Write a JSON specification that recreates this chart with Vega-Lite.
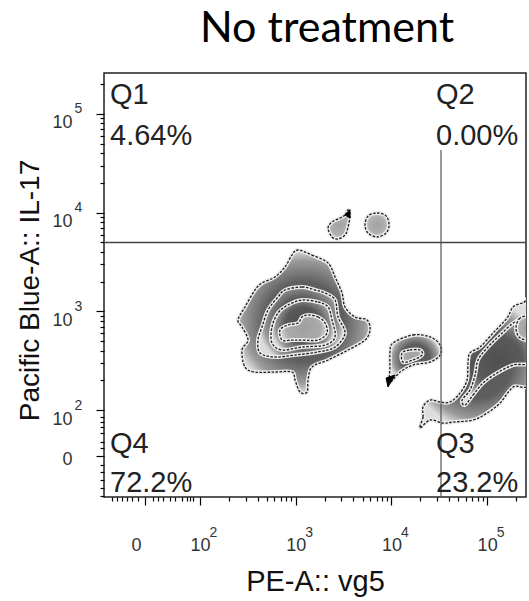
{
  "$schema": "https://vega.github.io/schema/vega-lite/v6.json",
  "width": 422,
  "height": 424,
  "autosize": {"type": "none"},
  "padding": {"left": 104, "top": 73, "right": 3, "bottom": 104},
  "background": "white",
  "title": {"text": "No treatment", "font": "Lato", "fontSize": 43, "fontWeight": "normal", "color": "#000", "anchor": "middle", "dx": 12, "offset": -12, "baseline": "alphabetic"},
  "config": {
    "view": {"stroke": "#222", "strokeWidth": 1.5},
    "axis": {"grid": false, "domain": false, "tickColor": "#000", "tickWidth": 1.2, "labelFont": "Liberation Sans", "labelColor": "#333", "titleFont": "Liberation Sans", "titleFontWeight": "normal", "titleColor": "#111", "labelOverlap": false, "labelFlush": false, "labelBound": false}
  },
  "datasets": {
    "contours": [
      {"s":"m1","lv":1,"i":0,"x":3.024,"y":3.621},{"s":"m1","lv":1,"i":1,"x":3.170,"y":3.570},{"s":"m1","lv":1,"i":2,"x":3.338,"y":3.489},{"s":"m1","lv":1,"i":3,"x":3.411,"y":3.348},{"s":"m1","lv":1,"i":4,"x":3.484,"y":3.185},{"s":"m1","lv":1,"i":5,"x":3.515,"y":3.044},{"s":"m1","lv":1,"i":6,"x":3.620,"y":2.942},{"s":"m1","lv":1,"i":7,"x":3.745,"y":2.912},{"s":"m1","lv":1,"i":8,"x":3.776,"y":2.811},{"s":"m1","lv":1,"i":9,"x":3.724,"y":2.709},{"s":"m1","lv":1,"i":10,"x":3.547,"y":2.608},{"s":"m1","lv":1,"i":11,"x":3.338,"y":2.507},{"s":"m1","lv":1,"i":12,"x":3.170,"y":2.436},{"s":"m1","lv":1,"i":13,"x":3.129,"y":2.304},{"s":"m1","lv":1,"i":14,"x":3.118,"y":2.182},{"s":"m1","lv":1,"i":15,"x":3.045,"y":2.182},{"s":"m1","lv":1,"i":16,"x":2.993,"y":2.304},{"s":"m1","lv":1,"i":17,"x":2.961,"y":2.385},{"s":"m1","lv":1,"i":18,"x":2.784,"y":2.385},{"s":"m1","lv":1,"i":19,"x":2.575,"y":2.385},{"s":"m1","lv":1,"i":20,"x":2.470,"y":2.436},{"s":"m1","lv":1,"i":21,"x":2.439,"y":2.608},{"s":"m1","lv":1,"i":22,"x":2.502,"y":2.709},{"s":"m1","lv":1,"i":23,"x":2.439,"y":2.841},{"s":"m1","lv":1,"i":24,"x":2.397,"y":2.912},{"s":"m1","lv":1,"i":25,"x":2.470,"y":3.044},{"s":"m1","lv":1,"i":26,"x":2.575,"y":3.216},{"s":"m1","lv":1,"i":27,"x":2.648,"y":3.287},{"s":"m1","lv":1,"i":28,"x":2.784,"y":3.348},{"s":"m1","lv":1,"i":29,"x":2.888,"y":3.449},{"s":"m1","lv":1,"i":30,"x":2.961,"y":3.570},
      {"s":"m2","lv":2,"i":0,"x":2.888,"y":3.216},{"s":"m2","lv":2,"i":1,"x":3.066,"y":3.246},{"s":"m2","lv":2,"i":2,"x":3.202,"y":3.216},{"s":"m2","lv":2,"i":3,"x":3.306,"y":3.185},{"s":"m2","lv":2,"i":4,"x":3.411,"y":3.114},{"s":"m2","lv":2,"i":5,"x":3.442,"y":2.942},{"s":"m2","lv":2,"i":6,"x":3.515,"y":2.780},{"s":"m2","lv":2,"i":7,"x":3.411,"y":2.638},{"s":"m2","lv":2,"i":8,"x":3.233,"y":2.588},{"s":"m2","lv":2,"i":9,"x":2.993,"y":2.557},{"s":"m2","lv":2,"i":10,"x":2.784,"y":2.537},{"s":"m2","lv":2,"i":11,"x":2.627,"y":2.578},{"s":"m2","lv":2,"i":12,"x":2.606,"y":2.709},{"s":"m2","lv":2,"i":13,"x":2.648,"y":2.841},{"s":"m2","lv":2,"i":14,"x":2.711,"y":3.013},{"s":"m2","lv":2,"i":15,"x":2.815,"y":3.145},
      {"s":"m3","lv":3,"i":0,"x":3.066,"y":3.114},{"s":"m3","lv":3,"i":1,"x":3.233,"y":3.094},{"s":"m3","lv":3,"i":2,"x":3.338,"y":3.044},{"s":"m3","lv":3,"i":3,"x":3.379,"y":2.912},{"s":"m3","lv":3,"i":4,"x":3.411,"y":2.740},{"s":"m3","lv":3,"i":5,"x":3.306,"y":2.659},{"s":"m3","lv":3,"i":6,"x":3.066,"y":2.638},{"s":"m3","lv":3,"i":7,"x":2.857,"y":2.608},{"s":"m3","lv":3,"i":8,"x":2.752,"y":2.679},{"s":"m3","lv":3,"i":9,"x":2.752,"y":2.841},{"s":"m3","lv":3,"i":10,"x":2.815,"y":2.983},{"s":"m3","lv":3,"i":11,"x":2.920,"y":3.064},
      {"s":"m4","lv":4,"i":0,"x":3.129,"y":2.963},{"s":"m4","lv":4,"i":1,"x":3.233,"y":2.942},{"s":"m4","lv":4,"i":2,"x":3.306,"y":2.881},{"s":"m4","lv":4,"i":3,"x":3.327,"y":2.780},{"s":"m4","lv":4,"i":4,"x":3.233,"y":2.709},{"s":"m4","lv":4,"i":5,"x":3.066,"y":2.709},{"s":"m4","lv":4,"i":6,"x":2.961,"y":2.709},{"s":"m4","lv":4,"i":7,"x":2.857,"y":2.709},{"s":"m4","lv":4,"i":8,"x":2.836,"y":2.811},{"s":"m4","lv":4,"i":9,"x":2.920,"y":2.861},{"s":"m4","lv":4,"i":10,"x":3.024,"y":2.881},{"s":"m4","lv":4,"i":11,"x":3.066,"y":2.942},
      {"s":"td","lv":1,"i":0,"x":3.547,"y":4.026},{"s":"td","lv":1,"i":1,"x":3.515,"y":3.976},{"s":"td","lv":1,"i":2,"x":3.463,"y":3.945},{"s":"td","lv":1,"i":3,"x":3.379,"y":3.905},{"s":"td","lv":1,"i":4,"x":3.338,"y":3.844},{"s":"td","lv":1,"i":5,"x":3.379,"y":3.753},{"s":"td","lv":1,"i":6,"x":3.442,"y":3.733},{"s":"td","lv":1,"i":7,"x":3.515,"y":3.773},{"s":"td","lv":1,"i":8,"x":3.547,"y":3.854},{"s":"td","lv":1,"i":9,"x":3.567,"y":3.976},
      {"s":"ci","lv":1,"i":0,"x":3.975,"y":3.874},{"s":"ci","lv":1,"i":1,"x":3.944,"y":3.793},{"s":"ci","lv":1,"i":2,"x":3.850,"y":3.753},{"s":"ci","lv":1,"i":3,"x":3.756,"y":3.793},{"s":"ci","lv":1,"i":4,"x":3.724,"y":3.874},{"s":"ci","lv":1,"i":5,"x":3.756,"y":3.966},{"s":"ci","lv":1,"i":6,"x":3.850,"y":3.996},{"s":"ci","lv":1,"i":7,"x":3.944,"y":3.966},
      {"s":"qb1","lv":1,"i":0,"x":4.017,"y":2.679},{"s":"qb1","lv":1,"i":1,"x":4.226,"y":2.760},{"s":"qb1","lv":1,"i":2,"x":4.403,"y":2.740},{"s":"qb1","lv":1,"i":3,"x":4.508,"y":2.659},{"s":"qb1","lv":1,"i":4,"x":4.508,"y":2.557},{"s":"qb1","lv":1,"i":5,"x":4.403,"y":2.486},{"s":"qb1","lv":1,"i":6,"x":4.226,"y":2.456},{"s":"qb1","lv":1,"i":7,"x":4.090,"y":2.385},{"s":"qb1","lv":1,"i":8,"x":3.985,"y":2.284},{"s":"qb1","lv":1,"i":9,"x":3.985,"y":2.436},{"s":"qb1","lv":1,"i":10,"x":3.985,"y":2.578},
      {"s":"qb2","lv":4,"i":0,"x":4.111,"y":2.578},{"s":"qb2","lv":4,"i":1,"x":4.194,"y":2.608},{"s":"qb2","lv":4,"i":2,"x":4.299,"y":2.608},{"s":"qb2","lv":4,"i":3,"x":4.320,"y":2.557},{"s":"qb2","lv":4,"i":4,"x":4.226,"y":2.507},{"s":"qb2","lv":4,"i":5,"x":4.121,"y":2.486},
      {"s":"rb1","lv":1,"i":0,"x":4.299,"y":1.818},{"s":"rb1","lv":1,"i":1,"x":4.330,"y":1.929},{"s":"rb1","lv":1,"i":2,"x":4.330,"y":2.030},{"s":"rb1","lv":1,"i":3,"x":4.403,"y":2.101},{"s":"rb1","lv":1,"i":4,"x":4.508,"y":2.081},{"s":"rb1","lv":1,"i":5,"x":4.612,"y":2.081},{"s":"rb1","lv":1,"i":6,"x":4.717,"y":2.172},{"s":"rb1","lv":1,"i":7,"x":4.790,"y":2.304},{"s":"rb1","lv":1,"i":8,"x":4.800,"y":2.476},{"s":"rb1","lv":1,"i":9,"x":4.821,"y":2.578},{"s":"rb1","lv":1,"i":10,"x":4.926,"y":2.638},{"s":"rb1","lv":1,"i":11,"x":5.062,"y":2.780},{"s":"rb1","lv":1,"i":12,"x":5.208,"y":2.932},{"s":"rb1","lv":1,"i":13,"x":5.271,"y":3.044},{"s":"rb1","lv":1,"i":14,"x":5.375,"y":3.084},{"s":"rb1","lv":1,"i":15,"x":5.460,"y":3.084},{"s":"rb1","lv":1,"i":16,"x":5.460,"y":2.304},{"s":"rb1","lv":1,"i":17,"x":5.271,"y":2.233},{"s":"rb1","lv":1,"i":18,"x":5.135,"y":2.071},{"s":"rb1","lv":1,"i":19,"x":4.999,"y":1.970},{"s":"rb1","lv":1,"i":20,"x":4.853,"y":1.899},{"s":"rb1","lv":1,"i":21,"x":4.644,"y":1.878},{"s":"rb1","lv":1,"i":22,"x":4.539,"y":1.868},{"s":"rb1","lv":1,"i":23,"x":4.403,"y":1.899},
      {"s":"rb2","lv":2,"i":0,"x":4.769,"y":2.051},{"s":"rb2","lv":2,"i":1,"x":4.853,"y":2.152},{"s":"rb2","lv":2,"i":2,"x":4.957,"y":2.274},{"s":"rb2","lv":2,"i":3,"x":5.103,"y":2.375},{"s":"rb2","lv":2,"i":4,"x":5.271,"y":2.456},{"s":"rb2","lv":2,"i":5,"x":5.460,"y":2.507},{"s":"rb2","lv":2,"i":6,"x":5.460,"y":2.932},{"s":"rb2","lv":2,"i":7,"x":5.292,"y":2.892},{"s":"rb2","lv":2,"i":8,"x":5.135,"y":2.760},{"s":"rb2","lv":2,"i":9,"x":4.999,"y":2.628},{"s":"rb2","lv":2,"i":10,"x":4.905,"y":2.507},{"s":"rb2","lv":2,"i":11,"x":4.874,"y":2.355},{"s":"rb2","lv":2,"i":12,"x":4.821,"y":2.203},{"s":"rb2","lv":2,"i":13,"x":4.738,"y":2.101},
      {"s":"rb3","lv":4,"i":0,"x":5.302,"y":2.831},{"s":"rb3","lv":4,"i":1,"x":5.333,"y":2.922},{"s":"rb3","lv":4,"i":2,"x":5.417,"y":2.953},{"s":"rb3","lv":4,"i":3,"x":5.500,"y":2.922},{"s":"rb3","lv":4,"i":4,"x":5.531,"y":2.831},{"s":"rb3","lv":4,"i":5,"x":5.500,"y":2.740},{"s":"rb3","lv":4,"i":6,"x":5.417,"y":2.709},{"s":"rb3","lv":4,"i":7,"x":5.333,"y":2.740},
      {"s":"tip1","lv":0,"i":0,"x":3.515,"y":3.976},{"s":"tip1","lv":0,"i":1,"x":3.567,"y":4.030},{"s":"tip1","lv":0,"i":2,"x":3.567,"y":3.945},
      {"s":"tip2","lv":0,"i":0,"x":3.944,"y":2.324},{"s":"tip2","lv":0,"i":1,"x":4.038,"y":2.355},{"s":"tip2","lv":0,"i":2,"x":3.964,"y":2.233}
    ],
    "quads": [
      {"t":"Q1","x":1.060,"y":5.100},{"t":"4.64%","x":1.060,"y":4.685},
      {"t":"Q2","x":4.466,"y":5.100},{"t":"0.00%","x":4.466,"y":4.685},
      {"t":"Q4","x":1.060,"y":1.564},{"t":"72.2%","x":1.060,"y":1.169},
      {"t":"Q3","x":4.466,"y":1.569},{"t":"23.2%","x":4.466,"y":1.169}
    ]
  },
  "resolve": {"axis": {"x": "independent", "y": "independent"}},
  "layer": [
    {
      "data": {"name": "contours"},
      "transform": [{"filter": "datum.lv == 1 && datum.s != 'td' && datum.s != 'ci'"}],
      "mark": {"type": "line", "interpolate": "cardinal-closed", "clip": true, "stroke": "#ececec", "strokeWidth": 4,
        "fill": {"gradient": "radial", "stops": [{"offset": 0, "color": "#555555"}, {"offset": 0.55, "color": "#5e5e5e"}, {"offset": 0.85, "color": "#9a9a9a"}, {"offset": 1, "color": "#dedede"}]}},
      "encoding": {
        "x": {"field": "x", "type": "quantitative", "scale": {"domain": [0.997, 5.406], "nice": false, "zero": false},
          "axis": {"orient": "bottom", "values": [1.425, 2, 3, 4, 5], "labelExpr": "datum.value < 1.6 ? '0' : '10'", "tickSize": 8, "labelFontSize": 18, "labelPadding": 31, "labelBaseline": "top",
            "labelOffset": {"condition": {"test": "datum.value < 1.6", "value": -9}, "value": 0},
            "title": "PE-A:: vg5", "titleFontSize": 29, "titleY": 93, "titleBaseline": "alphabetic"}},
        "y": {"field": "y", "type": "quantitative", "scale": {"domain": [1.119, 5.414], "nice": false, "zero": false},
          "axis": {"orient": "left", "values": [1.534, 2, 3, 4, 5], "labelExpr": "datum.value < 1.7 ? '0' : '10'", "tickSize": 8, "labelFontSize": 18, "labelPadding": 24, "labelAlign": "right", "labelBaseline": "middle",
            "labelOffset": {"condition": {"test": "datum.value < 1.7", "value": 3}, "value": 9},
            "title": "Pacific Blue-A:: IL-17", "titleFontSize": 28, "titleX": -66, "titleY": 217, "titleAngle": -90, "titleBaseline": "alphabetic", "titleAlign": "center"}},
        "detail": {"field": "s"},
        "order": {"field": "i", "type": "quantitative"}
      }
    },
    {
      "data": {"name": "contours"},
      "transform": [{"filter": "datum.s == 'td' || datum.s == 'ci'"}],
      "mark": {"type": "line", "interpolate": "cardinal-closed", "clip": true, "stroke": "#ececec", "strokeWidth": 4,
        "fill": {"gradient": "radial", "stops": [{"offset": 0, "color": "#a2a2a2"}, {"offset": 0.7, "color": "#b0b0b0"}, {"offset": 1, "color": "#d8d8d8"}]}},
      "encoding": {
        "x": {"field": "x", "type": "quantitative", "scale": {"domain": [0.997, 5.406], "nice": false, "zero": false},
          "axis": {"orient": "bottom", "values": [1.080,1.133,1.185,1.237,1.289,1.352,1.509,1.561,1.613,1.687,1.739,1.812,1.864,1.896,1.927,2.301,2.477,2.602,2.699,2.778,2.845,2.903,2.954,3.301,3.477,3.602,3.699,3.778,3.845,3.903,3.954,4.301,4.477,4.602,4.699,4.778,4.845,4.903,4.954,5.301],
            "tickSize": 4, "labels": false, "title": null}},
        "y": {"field": "y", "type": "quantitative", "scale": {"domain": [1.119, 5.414], "nice": false, "zero": false},
          "axis": {"orient": "left", "values": [1.129,1.210,1.291,1.372,1.443,1.615,1.676,1.767,1.828,1.878,1.929,2.301,2.477,2.602,2.699,2.778,2.845,2.903,2.954,3.301,3.477,3.602,3.699,3.778,3.845,3.903,3.954,4.301,4.477,4.602,4.699,4.778,4.845,4.903,4.954,5.301],
            "tickSize": 4, "labels": false, "title": null}},
        "detail": {"field": "s"},
        "order": {"field": "i", "type": "quantitative"}
      }
    },
    {
      "data": {"name": "contours"},
      "transform": [{"filter": "datum.lv == 1"}],
      "mark": {"type": "line", "interpolate": "cardinal-closed", "clip": true, "stroke": "#1a1a1a", "strokeWidth": 1.3, "strokeDash": [2.5, 1.5]},
      "encoding": {
        "x": {"field": "x", "type": "quantitative", "scale": {"domain": [0.997, 5.406], "nice": false, "zero": false},
          "axis": {"orient": "bottom", "values": [2, 3, 4, 5], "labelExpr": "'' + datum.value", "ticks": false, "tickSize": 0, "labelFontSize": 14, "labelPadding": 28, "labelBaseline": "top", "labelAlign": "left", "labelOffset": 9, "title": null}},
        "y": {"field": "y", "type": "quantitative", "scale": {"domain": [1.119, 5.414], "nice": false, "zero": false},
          "axis": {"orient": "left", "values": [2, 3, 4, 5], "labelExpr": "'' + datum.value", "ticks": false, "tickSize": 0, "labelFontSize": 14, "labelPadding": 30, "labelBaseline": "middle", "labelAlign": "left", "labelOffset": -5, "title": null}},
        "detail": {"field": "s"},
        "order": {"field": "i", "type": "quantitative"}
      }
    },
    {
      "data": {"name": "contours"},
      "transform": [{"filter": "datum.lv == 2"}],
      "mark": {"type": "line", "interpolate": "cardinal-closed", "clip": true, "stroke": "#ececec", "strokeWidth": 4,
        "fill": {"gradient": "radial", "stops": [{"offset": 0, "color": "#505050"}, {"offset": 0.55, "color": "#5a5a5a"}, {"offset": 0.85, "color": "#959595"}, {"offset": 1, "color": "#dcdcdc"}]}},
      "encoding": {
        "x": {"field": "x", "type": "quantitative", "scale": {"domain": [0.997, 5.406], "nice": false, "zero": false}, "axis": null},
        "y": {"field": "y", "type": "quantitative", "scale": {"domain": [1.119, 5.414], "nice": false, "zero": false}, "axis": null},
        "detail": {"field": "s"},
        "order": {"field": "i", "type": "quantitative"}
      }
    },
    {
      "data": {"name": "contours"},
      "transform": [{"filter": "datum.lv == 2"}],
      "mark": {"type": "line", "interpolate": "cardinal-closed", "clip": true, "stroke": "#1a1a1a", "strokeWidth": 1.3, "strokeDash": [2.5, 1.5]},
      "encoding": {
        "x": {"field": "x", "type": "quantitative", "scale": {"domain": [0.997, 5.406], "nice": false, "zero": false}, "axis": null},
        "y": {"field": "y", "type": "quantitative", "scale": {"domain": [1.119, 5.414], "nice": false, "zero": false}, "axis": null},
        "detail": {"field": "s"},
        "order": {"field": "i", "type": "quantitative"}
      }
    },
    {
      "data": {"name": "contours"},
      "transform": [{"filter": "datum.lv == 3"}],
      "mark": {"type": "line", "interpolate": "cardinal-closed", "clip": true, "stroke": "#ececec", "strokeWidth": 4,
        "fill": {"gradient": "radial", "stops": [{"offset": 0, "color": "#4c4c4c"}, {"offset": 0.55, "color": "#585858"}, {"offset": 0.85, "color": "#929292"}, {"offset": 1, "color": "#dadada"}]}},
      "encoding": {
        "x": {"field": "x", "type": "quantitative", "scale": {"domain": [0.997, 5.406], "nice": false, "zero": false}, "axis": null},
        "y": {"field": "y", "type": "quantitative", "scale": {"domain": [1.119, 5.414], "nice": false, "zero": false}, "axis": null},
        "detail": {"field": "s"},
        "order": {"field": "i", "type": "quantitative"}
      }
    },
    {
      "data": {"name": "contours"},
      "transform": [{"filter": "datum.lv == 3"}],
      "mark": {"type": "line", "interpolate": "cardinal-closed", "clip": true, "stroke": "#1a1a1a", "strokeWidth": 1.3, "strokeDash": [2.5, 1.5]},
      "encoding": {
        "x": {"field": "x", "type": "quantitative", "scale": {"domain": [0.997, 5.406], "nice": false, "zero": false}, "axis": null},
        "y": {"field": "y", "type": "quantitative", "scale": {"domain": [1.119, 5.414], "nice": false, "zero": false}, "axis": null},
        "detail": {"field": "s"},
        "order": {"field": "i", "type": "quantitative"}
      }
    },
    {
      "data": {"name": "contours"},
      "transform": [{"filter": "datum.lv == 4"}],
      "mark": {"type": "line", "interpolate": "cardinal-closed", "clip": true, "stroke": "#ececec", "strokeWidth": 4,
        "fill": {"gradient": "radial", "stops": [{"offset": 0, "color": "#a0a0a0"}, {"offset": 0.7, "color": "#aaaaaa"}, {"offset": 1, "color": "#d8d8d8"}]}},
      "encoding": {
        "x": {"field": "x", "type": "quantitative", "scale": {"domain": [0.997, 5.406], "nice": false, "zero": false}, "axis": null},
        "y": {"field": "y", "type": "quantitative", "scale": {"domain": [1.119, 5.414], "nice": false, "zero": false}, "axis": null},
        "detail": {"field": "s"},
        "order": {"field": "i", "type": "quantitative"}
      }
    },
    {
      "data": {"name": "contours"},
      "transform": [{"filter": "datum.lv == 4"}],
      "mark": {"type": "line", "interpolate": "cardinal-closed", "clip": true, "stroke": "#1a1a1a", "strokeWidth": 1.3, "strokeDash": [2.5, 1.5]},
      "encoding": {
        "x": {"field": "x", "type": "quantitative", "scale": {"domain": [0.997, 5.406], "nice": false, "zero": false}, "axis": null},
        "y": {"field": "y", "type": "quantitative", "scale": {"domain": [1.119, 5.414], "nice": false, "zero": false}, "axis": null},
        "detail": {"field": "s"},
        "order": {"field": "i", "type": "quantitative"}
      }
    },
    {
      "data": {"name": "contours"},
      "transform": [{"filter": "datum.lv == 0"}],
      "mark": {"type": "line", "interpolate": "linear-closed", "clip": true, "stroke": "#000", "strokeWidth": 1, "fill": "#000"},
      "encoding": {
        "x": {"field": "x", "type": "quantitative", "scale": {"domain": [0.997, 5.406], "nice": false, "zero": false}, "axis": null},
        "y": {"field": "y", "type": "quantitative", "scale": {"domain": [1.119, 5.414], "nice": false, "zero": false}, "axis": null},
        "detail": {"field": "s"},
        "order": {"field": "i", "type": "quantitative"}
      }
    },
    {
      "data": {"values": [{"gate_il17": 3.697}]},
      "mark": {"type": "rule", "color": "#444", "strokeWidth": 1.4},
      "encoding": {
        "y": {"field": "gate_il17", "type": "quantitative", "scale": {"domain": [1.119, 5.414], "nice": false, "zero": false}, "axis": null}
      }
    },
    {
      "data": {"values": [{"gate_vg5": 4.518, "lo": 1.119, "hi": 4.634}]},
      "mark": {"type": "rule", "color": "#555", "strokeWidth": 1.2},
      "encoding": {
        "x": {"field": "gate_vg5", "type": "quantitative", "scale": {"domain": [0.997, 5.406], "nice": false, "zero": false}, "axis": null},
        "y": {"field": "lo", "type": "quantitative", "scale": {"domain": [1.119, 5.414], "nice": false, "zero": false}, "axis": null},
        "y2": {"field": "hi"}
      }
    },
    {
      "data": {"name": "quads"},
      "mark": {"type": "text", "align": "left", "baseline": "alphabetic", "font": "Liberation Sans", "fontSize": 29, "color": "#222"},
      "encoding": {
        "x": {"field": "x", "type": "quantitative", "scale": {"domain": [0.997, 5.406], "nice": false, "zero": false}, "axis": null},
        "y": {"field": "y", "type": "quantitative", "scale": {"domain": [1.119, 5.414], "nice": false, "zero": false}, "axis": null},
        "text": {"field": "t"}
      }
    }
  ]
}
